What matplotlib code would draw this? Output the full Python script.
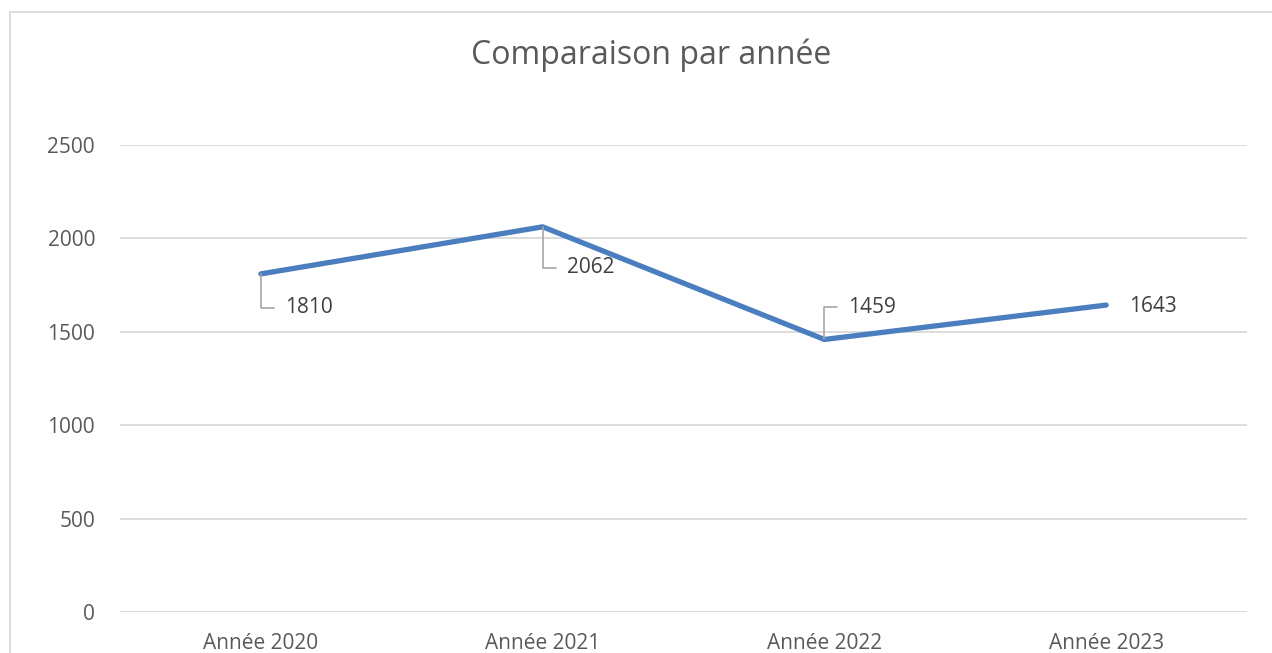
import matplotlib
matplotlib.use("Agg")
import matplotlib.pyplot as plt
from matplotlib.patches import Rectangle

categories = ["Année 2020", "Année 2021", "Année 2022", "Année 2023"]
values = [1810, 2062, 1459, 1643]
yticks = [0, 500, 1000, 1500, 2000, 2500]
title = "Comparaison par année"

plt.rcParams['font.family'] = ['Open Sans', 'DejaVu Sans']
txt = '#595959'
grid = '#D9D9D9'
blue = '#4A7EBF'

W, H = 1272, 653
fig = plt.figure(figsize=(W/100, H/100), dpi=100)
fig.patches.append(Rectangle((10/W, -0.1), 1.2, 1 - 12/H + 0.1, transform=fig.transFigure,
                             fill=False, edgecolor=grid, linewidth=1.3, clip_on=False))

ax = fig.add_axes([120/W, 1 - 612/H, (1247-120)/W, (612-145)/H])
x = list(range(len(categories)))
ax.plot(x, values, color=blue, linewidth=3.8, solid_capstyle='round', zorder=3)
ax.set_xlim(-0.5, len(categories) - 0.5)
ax.set_ylim(0, 2500)
ax.set_yticks(yticks)
ax.set_yticklabels([str(v) for v in yticks])
ax.set_xticks(x)
ax.set_xticklabels(categories)
for s in ax.spines.values():
    s.set_visible(False)
ax.yaxis.grid(True, color=grid, linewidth=1.3)
ax.set_axisbelow(True)
ax.tick_params(axis='both', length=0, colors=txt, labelsize=15)
ax.tick_params(axis='y', pad=18)
ax.tick_params(axis='x', pad=15)

offsets = [(24, -34), (24, -41), (24, 32), (23, -1)]
leaders = [True, True, True, False]
for xi, v, off, ld in zip(x, values, offsets, leaders):
    kw = {}
    if ld:
        kw['arrowprops'] = dict(arrowstyle='-', color='#A6A6A6', linewidth=1.2,
                                connectionstyle='angle,angleA=0,angleB=90,rad=0',
                                relpos=(0, 0.5), shrinkA=6, shrinkB=0)
    ax.annotate(str(v), xy=(xi, v), xytext=off, textcoords='offset pixels',
                ha='left', va='center', fontsize=15, color='#404040', **kw)

fig.text(651/W, 1 - 55/H, title, ha='center', va='center', fontsize=23, color=txt)

fig.savefig("out.png", dpi=100)
